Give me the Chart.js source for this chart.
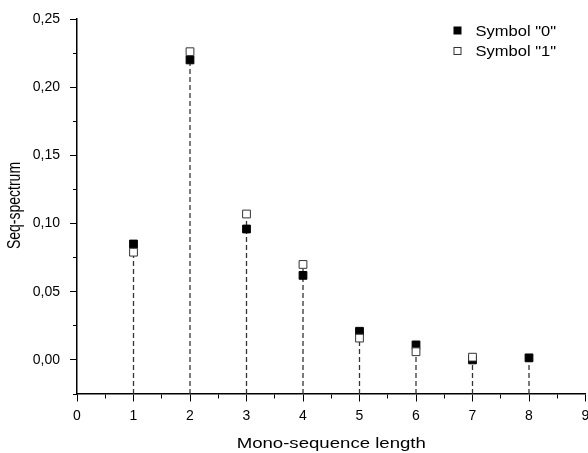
<!DOCTYPE html>
<html>
<head>
<meta charset="utf-8">
<script src="https://cdn.jsdelivr.net/npm/chart.js@4"></script>
<style>
  html, body { margin: 0; padding: 0; background: #fff; overflow: hidden; }
  /* slightly wider than the window: the scale keeps a few px of right margin */
  #wrap { width: 592px; height: 453px; }
</style>
</head>
<body>
<div id="wrap"><canvas id="seqChart"></canvas></div>
<script>
var lengths = [1, 2, 3, 4, 5, 6, 7, 8];
var symbol0 = [0.085, 0.220, 0.096, 0.062, 0.021, 0.011, 0.000, 0.0015];
var symbol1 = [0.079, 0.226, 0.107, 0.070, 0.016, 0.006, 0.002, null];
var yMin = -0.025, yMax = 0.25;
var xTitle = "Mono-sequence length";
var yTitle = "Seq-spectrum";

// vertical drop lines from the axis up to the highest marker
var drops = [];
lengths.forEach(function (x, i) {
  var top = Math.max(symbol0[i], symbol1[i] == null ? -1 : symbol1[i]);
  drops.push({ x: x, y: yMin }, { x: x, y: top }, { x: x, y: null });
});

function pts(vals) {
  return lengths.map(function (x, i) { return { x: x, y: vals[i] }; })
    .filter(function (p) { return p.y != null; });
}

var font = "'Liberation Sans', Arial, sans-serif";

// the original's text is a bit wider than tall, so titles and legend are drawn stretched
var stretchedText = {
  id: "stretchedText",
  afterDraw: function (chart) {
    var c = chart.ctx;
    var a = chart.chartArea;
    c.save();
    c.fillStyle = "#000";

    // x title
    c.save();
    c.font = "15.5px " + font;
    c.textAlign = "center";
    c.translate((a.left + a.right) / 2, 448);
    c.scale(1.2, 1);
    c.fillText(xTitle, 0, 0);
    c.restore();

    // y title
    c.save();
    c.font = "14px " + font;
    c.textAlign = "center";
    c.translate(20, (a.top + a.bottom) / 2 - 1);
    c.rotate(-Math.PI / 2);
    c.scale(1, 1.25);
    c.fillText(yTitle, 0, 0);
    c.restore();

    // legend, top right of the plot
    var x0 = a.right - 128, y0 = a.top + 11.5;
    c.font = "14px " + font;
    [0, 1].forEach(function (i) {
      var ds = chart.data.datasets[i];
      var y = y0 + i * 20.5;
      c.fillStyle = ds.backgroundColor;
      c.strokeStyle = ds.borderColor;
      c.lineWidth = 1;
      c.fillRect(x0 - 3.5, y - 3.5, 7, 7);
      c.strokeRect(x0 - 3.5, y - 3.5, 7, 7);
      c.fillStyle = "#000";
      c.save();
      c.translate(x0 + 18, y + 5);
      c.scale(1.18, 1);
      c.fillText(ds.label, 0, 0);
      c.restore();
    });
    c.restore();
  }
};

function isMinorX(ctx) {
  return ctx.tick && !Number.isInteger(ctx.tick.value);
}
function isMinorY(ctx) {
  if (!ctx.tick) return false;
  var k = ctx.tick.value / 0.05;
  return Math.abs(k - Math.round(k)) > 1e-6;
}

var ctx = document.getElementById("seqChart").getContext("2d");
var seqChart = new Chart(ctx, {
  type: "scatter",
  data: {
    datasets: [
      {
        label: 'Symbol "0"',
        data: pts(symbol0),
        pointStyle: "rect",
        pointRadius: 5.5,
        pointHoverRadius: 5.5,
        backgroundColor: "#000",
        borderColor: "#000",
        borderWidth: 1,
        order: 2
      },
      {
        label: 'Symbol "1"',
        data: pts(symbol1),
        pointStyle: "rect",
        pointRadius: 5.5,
        pointHoverRadius: 5.5,
        backgroundColor: "#fff",
        borderColor: "#333",
        borderWidth: 1,
        order: 1
      },
      {
        label: "drop",
        type: "line",
        data: drops,
        showLine: true,
        spanGaps: false,
        borderColor: "#333",
        borderWidth: 1.3,
        borderDash: [5, 3],
        pointRadius: 0,
        order: 3
      }
    ]
  },
  options: {
    responsive: true,
    maintainAspectRatio: false,
    animation: false,
    layout: { padding: { top: 19, right: 0, left: 0, bottom: 0 } },
    plugins: {
      tooltip: { enabled: false },
      legend: { display: false }
    },
    scales: {
      x: {
        type: "linear",
        min: 0,
        max: 9,
        afterFit: function (s) { s.height = 59; s.paddingRight = 0; s.paddingLeft = 0; },
        ticks: {
          stepSize: 0.5,
          color: "#000",
          font: { family: font, size: 14 },
          padding: 0,
          maxRotation: 0,
          autoSkip: false,
          callback: function (v) { return Number.isInteger(v) ? String(v) : ""; }
        },
        grid: {
          drawOnChartArea: false,
          color: "#000",
          tickLength: 14,
          // long tick slot keeps labels low; dashes trim the visible mark
          tickBorderDash: function (c) { return isMinorX(c) ? [4, 100] : [7, 100]; }
        },
        border: { color: "#000", width: 1.5 },
        title: { display: false }
      },
      y: {
        type: "linear",
        min: yMin,
        max: yMax,
        afterFit: function (s) { s.width = 77; },
        ticks: {
          stepSize: 0.025,
          color: "#000",
          font: { family: font, size: 14 },
          padding: 10,
          autoSkip: false,
          callback: function (v) {
            var k = v / 0.05;
            if (Math.abs(k - Math.round(k)) > 1e-6 || v < -1e-9) return "";
            return (Math.round(k) * 0.05).toFixed(2).replace(".", ",");
          }
        },
        grid: {
          drawOnChartArea: false,
          color: "#000",
          tickLength: 7,
          tickBorderDash: function (c) { return isMinorY(c) ? [0, 3, 4, 100] : []; }
        },
        border: { color: "#000", width: 1.5 },
        title: { display: false }
      }
    }
  },
  plugins: [stretchedText]
});
</script>
</body>
</html>
